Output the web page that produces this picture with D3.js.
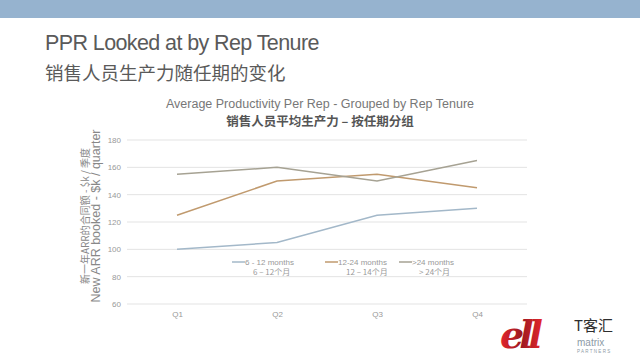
<!DOCTYPE html>
<html><head><meta charset="utf-8">
<script src="https://cdn.jsdelivr.net/npm/d3@7"></script>
<style>body{margin:0;background:#fff}svg{display:block}</style>
</head><body>
<svg id="c" width="640" height="360"></svg>
<script>
const quarters = ["Q1","Q2","Q3","Q4"];
const seriesNames = ["6 - 12 months","12-24 months",">24 months"];
const seriesNamesCN = ["6 – 12个月","12 – 14个月",">  24个月"];
const s6to12 = [100,105,125,130];
const s12to24 = [125,150,155,145];
const sOver24 = [155,160,150,165];
const yTicks = [60,80,100,120,140,160,180];
const colors = ["#a3b8c9","#c09a6e","#a6a293"];

const svg = d3.select("#c");
const defs = svg.append("defs");
const gr = defs.append("linearGradient").attr("id","red").attr("x1","0").attr("x2","1").attr("y1","0").attr("y2","0");
gr.append("stop").attr("offset","0").attr("stop-color","#e5262c");
gr.append("stop").attr("offset","0.5").attr("stop-color","#9c1a22");
gr.append("stop").attr("offset","1").attr("stop-color","#e5262c");

svg.append("rect").attr("x",0).attr("y",0).attr("width",640).attr("height",18).attr("fill","#96b3cf");
svg.append("text").attr("x",45).attr("y",50).attr("font-family","Liberation Sans, Arial").attr("font-size",21.5).attr("letter-spacing",-0.6).attr("fill","#5a5a5a").text("PPR Looked at by Rep Tenure");
svg.append("text").attr("x",45).attr("y",80).attr("font-family","Noto Sans CJK SC").attr("font-size",18.5).attr("fill","#5a5a5a").text("销售人员生产力随任期的变化");

svg.append("text").attr("x",320).attr("y",108).attr("text-anchor","middle").attr("font-family","Liberation Sans, Arial").attr("font-size",12.5).attr("fill","#777").text("Average Productivity Per Rep  - Grouped by Rep Tenure");
svg.append("text").attr("x",320).attr("y",126).attr("text-anchor","middle").attr("font-family","Noto Sans CJK SC").attr("font-weight","bold").attr("font-size",12.5).attr("fill","#555").text("销售人员平均生产力 – 按任期分组");

const x = d3.scalePoint().domain(quarters).range([127,527]).padding(0.5);
const y = d3.scaleLinear().domain([60,180]).range([304,140]);

svg.append("g").selectAll("line").data(yTicks).join("line")
 .attr("x1",127).attr("x2",527).attr("y1",d=>y(d)).attr("y2",d=>y(d))
 .attr("stroke","#e3e3e3").attr("stroke-width",1);

const yAxis = d3.axisLeft(y).tickValues(yTicks).tickSize(0).tickPadding(6);
svg.append("g").attr("transform","translate(127,0)").call(yAxis)
 .call(a=>a.select(".domain").remove())
 .selectAll("text").attr("font-family","Liberation Sans, Arial").attr("font-size",8).attr("fill","#999");
const xAxis = d3.axisBottom(x).tickSize(0).tickPadding(7);
svg.append("g").attr("transform","translate(0,304)").call(xAxis)
 .call(a=>a.select(".domain").remove())
 .selectAll("text").attr("font-family","Liberation Sans, Arial").attr("font-size",8).attr("fill","#999");

const all = [s6to12,s12to24,sOver24];
const line = d3.line().x((d,i)=>x(quarters[i])).y(d=>y(d));
all.forEach((s,k)=>{
  svg.append("path").attr("d",line(s)).attr("fill","none").attr("stroke",colors[k]).attr("stroke-width",1.5);
});

// legend
const legX = [232,325,399];
seriesNames.forEach((n,k)=>{
  const lg = svg.append("g").attr("transform",`translate(${legX[k]},0)`);
  lg.append("line").attr("x1",0).attr("x2",13).attr("y1",262).attr("y2",262).attr("stroke",colors[k]).attr("stroke-width",1.5);
  lg.append("text").attr("x",13).attr("y",265).attr("font-family","Liberation Sans, Arial").attr("font-size",8).attr("fill","#999").text(n);
  lg.append("text").attr("x",[21,21,20][k]).attr("y",275).attr("font-family","Noto Sans CJK SC, Liberation Sans").attr("font-size",8).attr("fill","#999").text(seriesNamesCN[k]);
});

// y axis title
const yt = svg.append("g").attr("transform","translate(0,216)");
yt.append("text").attr("transform","translate(89,0) rotate(-90)").attr("text-anchor","middle").attr("font-family","Noto Sans CJK SC").attr("font-size",10).attr("fill","#888").text("新一年ARR的合同额 - $k / 季度");
yt.append("text").attr("transform","translate(100,0) rotate(-90)").attr("text-anchor","middle").attr("font-family","Liberation Sans, Arial").attr("font-size",12.5).attr("fill","#888").text("New ARR booked - $k / quarter");

// logo
const lgG = svg.append("g");
lgG.append("text").attr("x",500).attr("y",348).attr("font-family","DejaVu Serif").attr("font-style","italic").attr("font-weight","bold").attr("font-size",38).attr("fill","url(#red)").attr("letter-spacing",-5).text("ell");
lgG.append("text").attr("x",574).attr("y",331).attr("font-family","Noto Sans CJK SC").attr("font-size",15).attr("fill","#2e2e2e").text("T客汇");
lgG.append("text").attr("x",577).attr("y",346).attr("font-family","Liberation Sans").attr("font-size",10).attr("fill","#8d9ba6").text("matrix");
lgG.append("text").attr("x",577).attr("y",353).attr("font-family","Liberation Sans").attr("font-size",4.5).attr("letter-spacing",1.3).attr("fill","#8d9ba6").text("PARTNERS");
</script>
</body></html>
